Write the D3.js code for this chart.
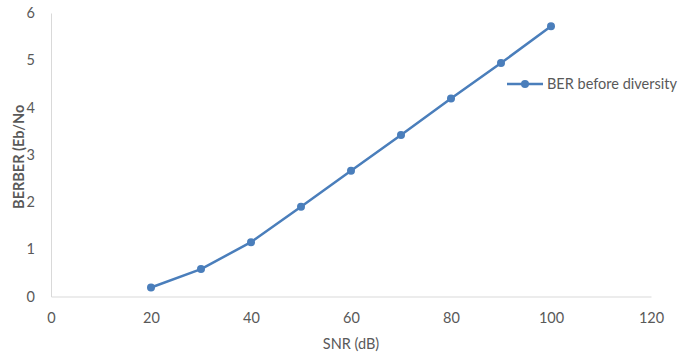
<!DOCTYPE html>
<html>
<head>
<meta charset="utf-8">
<script src="https://cdn.jsdelivr.net/npm/d3@7"></script>
<style>
  body { margin: 0; background: #fff; }
  svg text { font-family: Lato, "Open Sans", sans-serif; }
</style>
</head>
<body>
<svg id="chart" width="678" height="358"></svg>
<script>
// Data
const snr = [20, 30, 40, 50, 60, 70, 80, 90, 100];
const berBefore = [0.19, 0.58, 1.15, 1.90, 2.66, 3.42, 4.19, 4.94, 5.72];
const xTicks = [0, 20, 40, 60, 80, 100, 120];
const yTicks = [0, 1, 2, 3, 4, 5, 6];
const seriesName = 'BER before diversity';

const WIDTH = 678;
const HEIGHT = 358;
const MARGIN = { left: 51, right: 27, top: 13, bottom: 61.5 };
const BLUE = '#4a7ebb';
const TEXT = '#595959';
const FONT = '14.5px';

const svg = d3.select('#chart');

// Scales
const xScale = d3.scaleLinear()
  .domain([0, 120])
  .range([MARGIN.left, WIDTH - MARGIN.right]);

const yScale = d3.scaleLinear()
  .domain([0, 6])
  .range([HEIGHT - MARGIN.bottom, MARGIN.top]);

// Axes
const xAxis = d3.axisBottom(xScale).tickValues(xTicks).tickSize(0).tickPadding(16).tickFormat(d3.format('d'));
const yAxis = d3.axisLeft(yScale).tickValues(yTicks).tickSize(0).tickPadding(16).tickFormat(d3.format('d'));

const gx = svg.append('g')
  .attr('transform', `translate(0, ${HEIGHT - MARGIN.bottom})`)
  .call(xAxis);
const gy = svg.append('g')
  .attr('transform', `translate(${MARGIN.left}, 0)`)
  .call(yAxis);

[gx, gy].forEach(g => {
  g.select('.domain').attr('stroke', '#d9d9d9').attr('stroke-width', 1);
  g.selectAll('text').attr('fill', TEXT).style('font-size', FONT);
});

// Axis titles
svg.append('text')
  .text('SNR (dB)')
  .attr('x', xScale(60))
  .attr('y', 349)
  .attr('text-anchor', 'middle')
  .attr('fill', TEXT)
  .style('font-size', FONT);

svg.append('text')
  .text('BERBER (Eb/No')
  .attr('transform', `translate(24, ${yScale(3) + 2}) rotate(-90)`)
  .attr('text-anchor', 'middle')
  .attr('fill', TEXT)
  .style('font-size', FONT)
  .style('font-weight', 'bold');

// Line and markers
const points = snr.map((s, i) => ({ x: s, y: berBefore[i] }));

const lineGenerator = d3.line()
  .x(d => xScale(d.x))
  .y(d => yScale(d.y));

svg.append('path')
  .datum(points)
  .attr('fill', 'none')
  .attr('stroke', BLUE)
  .attr('stroke-width', 2.5)
  .attr('stroke-linejoin', 'round')
  .attr('d', lineGenerator);

svg.selectAll('.dot')
  .data(points)
  .join('circle')
  .attr('class', 'dot')
  .attr('cx', d => xScale(d.x))
  .attr('cy', d => yScale(d.y))
  .attr('r', 4)
  .attr('fill', BLUE);

// Legend
const legend = svg.append('g').attr('transform', 'translate(507, 84)');
legend.append('line')
  .attr('x1', 0).attr('x2', 36)
  .attr('stroke', BLUE)
  .attr('stroke-width', 2.5);
legend.append('circle')
  .attr('cx', 18).attr('r', 4)
  .attr('fill', BLUE);
legend.append('text')
  .text(seriesName)
  .attr('x', 40)
  .attr('dy', '0.35em')
  .attr('fill', TEXT)
  .style('font-size', FONT);
</script>
</body>
</html>
